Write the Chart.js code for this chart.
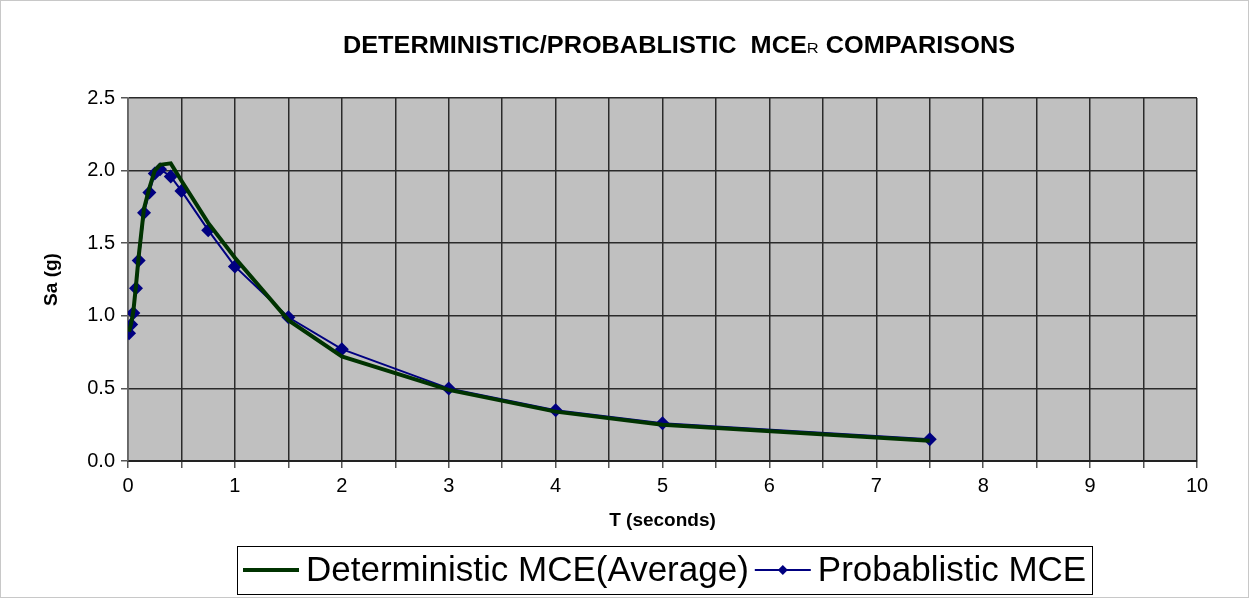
<!DOCTYPE html>
<html>
<head>
<meta charset="utf-8">
<script src="https://cdn.jsdelivr.net/npm/chart.js@4.4.1/dist/chart.umd.min.js"></script>
<style>
  html, body { margin: 0; padding: 0; background: #fff; }
  #wrap { width: 1252px; height: 598px; position: relative; }
</style>
</head>
<body>
<div id="wrap"><canvas id="mceChart"></canvas></div>
<script>
// periods (s)
var periods = [0.01, 0.03, 0.05, 0.075, 0.1, 0.15, 0.2, 0.25, 0.3, 0.4, 0.5, 0.75, 1, 1.5, 2, 3, 4, 5, 7.5];
// Sa (g)
var detAvg = [0.89, 0.95, 1.03, 1.21, 1.41, 1.74, 1.88, 2.00, 2.04, 2.05, 1.93, 1.64, 1.40, 0.97, 0.72, 0.49, 0.34, 0.25, 0.14];
var probMce = [0.88, 0.94, 1.02, 1.19, 1.38, 1.71, 1.85, 1.98, 2.01, 1.96, 1.86, 1.59, 1.34, 0.99, 0.77, 0.50, 0.35, 0.26, 0.15];
var seriesNames = ['Deterministic MCE(Average)', 'Probablistic MCE'];
var xTicks = [0, 1, 2, 3, 4, 5, 6, 7, 8, 9, 10];
var yTicks = [0.0, 0.5, 1.0, 1.5, 2.0, 2.5];

function toPoints(xs, ys) {
    var pts = [];
    for (var i = 0; i < xs.length; i++) {
        pts.push({x: xs[i], y: ys[i]});
    }
    return pts;
}

var FONT = 'Liberation Sans, Arial, sans-serif';

// gray plot background, title with small "R", boxed legend
var excelLook = {
    id: 'excelLook',
    beforeDraw: function (chart) {
        var ctx = chart.ctx, a = chart.chartArea;
        ctx.save();
        ctx.strokeStyle = '#c8c8c8';
        ctx.lineWidth = 1;
        ctx.strokeRect(0.5, 0.5, 1248, 597);
        ctx.fillStyle = '#c0c0c0';
        ctx.fillRect(a.left, a.top, a.right - a.left, a.bottom - a.top);
        ctx.restore();
    },
    afterDraw: function (chart) {
        var ctx = chart.ctx;
        ctx.save();
        var parts = [
            {t: 'DETERMINISTIC/PROBABLISTIC  MCE', f: 'bold 23px ' + FONT},
            {t: 'R', f: '15px ' + FONT},
            {t: ' COMPARISONS', f: 'bold 23px ' + FONT}
        ];
        var sx = 1.1;
        var total = 0;
        parts.forEach(function (p) { ctx.font = p.f; p.w = ctx.measureText(p.t).width * sx; total += p.w; });
        var x = 679 - total / 2, y = 53;
        ctx.fillStyle = '#000';
        ctx.textBaseline = 'alphabetic';
        parts.forEach(function (p) {
            ctx.save();
            ctx.translate(x, y);
            ctx.scale(sx, 1);
            ctx.font = p.f;
            ctx.fillText(p.t, 0, 0);
            ctx.restore();
            x += p.w;
        });

        // legend
        var items = [
            {label: seriesNames[0], color: '#003300', width: 4, marker: false},
            {label: seriesNames[1], color: '#000080', width: 2, marker: true}
        ];
        ctx.font = '35px ' + FONT;
        var lineLen = 56, gap = 7, itemGap = 6, pad = 6;
        var w = pad;
        items.forEach(function (it, i) {
            it.tw = ctx.measureText(it.label).width;
            w += lineLen + gap + it.tw + (i < items.length - 1 ? itemGap : 0);
        });
        w += pad;
        var bx = Math.round(665 - w / 2), by = 546, bh = 48;
        ctx.fillStyle = '#fff';
        ctx.fillRect(bx, by, w, bh);
        ctx.strokeStyle = '#000';
        ctx.lineWidth = 1;
        ctx.strokeRect(bx + 0.5, by + 0.5, Math.round(w), bh);
        var cx = bx + pad, cy = by + bh / 2;
        items.forEach(function (it) {
            ctx.strokeStyle = it.color;
            ctx.lineWidth = it.width;
            ctx.beginPath();
            ctx.moveTo(cx, cy);
            ctx.lineTo(cx + lineLen, cy);
            ctx.stroke();
            if (it.marker) {
                var mx = cx + lineLen / 2;
                ctx.fillStyle = it.color;
                ctx.beginPath();
                ctx.moveTo(mx, cy - 5); ctx.lineTo(mx + 5, cy); ctx.lineTo(mx, cy + 5); ctx.lineTo(mx - 5, cy);
                ctx.closePath();
                ctx.fill();
            }
            cx += lineLen + gap;
            ctx.fillStyle = '#000';
            ctx.textBaseline = 'middle';
            ctx.fillText(it.label, cx, cy + 1);
            cx += it.tw + itemGap;
        });
        ctx.restore();
    }
};

var chartCanvas = document.getElementById('mceChart').getContext('2d');
var mceChart = new Chart(chartCanvas, {
    type: 'scatter',
    data: {
        datasets: [
            {
                label: seriesNames[0],
                data: toPoints(periods, detAvg),
                showLine: true,
                borderColor: '#003300',
                backgroundColor: '#003300',
                borderWidth: 4,
                pointRadius: 0,
                tension: 0
            },
            {
                label: seriesNames[1],
                data: toPoints(periods, probMce),
                showLine: true,
                borderColor: '#000080',
                backgroundColor: '#000080',
                borderWidth: 2,
                pointStyle: 'rectRot',
                pointRadius: 7,
                pointBorderWidth: 0,
                tension: 0
            }
        ]
    },
    options: {
        responsive: true,
        maintainAspectRatio: false,
        animation: false,
        layout: { padding: { top: 98, right: 55, bottom: 66, left: 0 } },
        plugins: {
            legend: { display: false },
            title: { display: false },
            tooltip: { enabled: false }
        },
        scales: {
            x: {
                type: 'linear',
                min: 0,
                max: 10,
                afterFit: function (scale) { scale.height = 598 - 66 - 461; },
                afterBuildTicks: function (scale) {
                    var t = [];
                    for (var v = 0; v <= 10; v += 0.5) t.push({value: v});
                    scale.ticks = t;
                },
                ticks: {
                    color: '#000',
                    font: { family: FONT, size: 20 },
                    maxRotation: 0,
                    autoSkip: false,
                    padding: 6,
                    callback: function (v) { return xTicks.indexOf(v) >= 0 ? String(v) : ''; }
                },
                grid: { color: '#2a2a2a', lineWidth: 1.5, tickLength: 7, tickColor: '#555' },
                border: { color: '#222', width: 2 },
                title: {
                    display: true,
                    text: 'T (seconds)',
                    color: '#000',
                    font: { family: FONT, size: 19, weight: 'bold' },
                    padding: { top: 0, bottom: 0 }
                }
            },
            y: {
                min: 0,
                max: 2.5,
                afterFit: function (scale) { scale.width = 128; },
                afterBuildTicks: function (scale) {
                    scale.ticks = yTicks.map(function (v) { return {value: v}; });
                },
                ticks: {
                    color: '#000',
                    font: { family: FONT, size: 20 },
                    padding: 6,
                    callback: function (v) { return v.toFixed(1); }
                },
                grid: { color: '#2a2a2a', lineWidth: 1.5, tickLength: 7, tickColor: '#555' },
                border: { color: '#666', width: 1.5 },
                title: {
                    display: true,
                    text: 'Sa (g)',
                    color: '#000',
                    font: { family: FONT, size: 19, weight: 'bold' },
                    padding: { top: 40, bottom: 0 }
                }
            }
        }
    },
    plugins: [excelLook]
});
</script>
</body>
</html>
